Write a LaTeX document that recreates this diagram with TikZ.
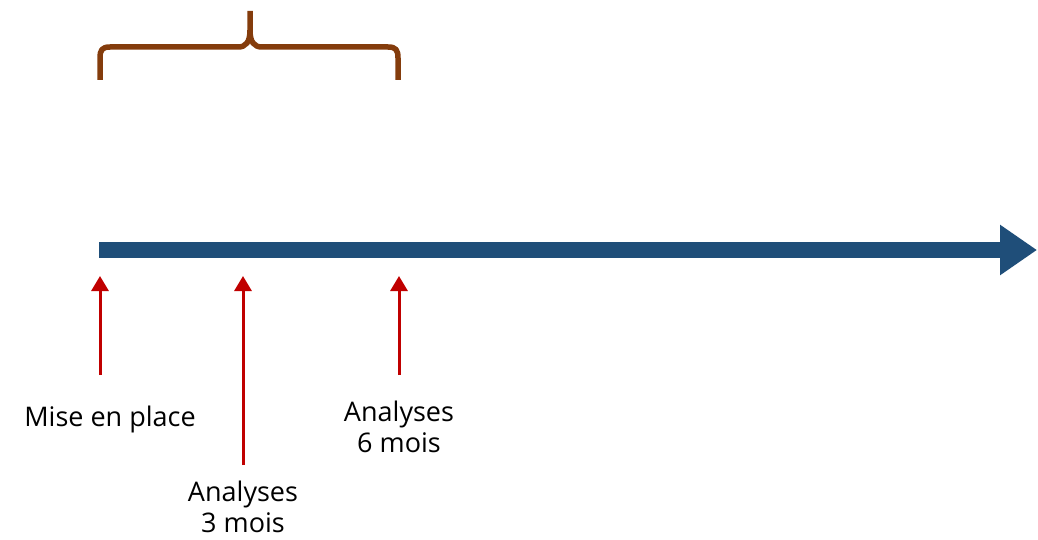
\documentclass[tikz,border=0pt]{standalone}
\usepackage{fontspec}
\setmainfont{Open Sans}
\usetikzlibrary{arrows.meta}
\definecolor{axisblue}{HTML}{1F4E79}
\definecolor{markred}{HTML}{C00000}
\definecolor{bracebrown}{HTML}{843C0C}

\begin{document}
\begin{tikzpicture}[x=1pt,y=-1pt,
	timeline/.style={axisblue, line width=16pt, -{Triangle[length=37pt,width=48pt]}},
	marker/.style={markred, line width=3pt, -{Triangle[length=15pt,width=17pt]}},
	lbl/.style={font=\fontsize{27}{31}\selectfont, align=center, inner sep=0pt}]
	\useasboundingbox (0,0) rectangle (1038,540);
	% time axis
		\coordinate (t0) at (99,250);
		\coordinate (tEnd) at (1037,250);
		\draw[timeline] (t0) -- (tEnd);
	% events
		\coordinate (e0) at (100,276);
		\coordinate (e3) at (243,276);
		\coordinate (e6) at (399,276);
		\coordinate (f0) at (100,375);
		\coordinate (f3) at (243,465);
		\coordinate (f6) at (399,375);
		\draw[marker] (f0) -- (e0);
		\draw[marker] (f3) -- (e3);
		\draw[marker] (f6) -- (e6);
		\node[lbl] (start) at (110,419) {Mise en place};
		\node[lbl] (month3) at (243,507) {Analyses\\3 mois};
		\node[lbl] (month6) at (399,427) {Analyses\\6 mois};
	% brace
		\draw[bracebrown, line width=5.5pt, line join=round]
			(100,80) -- (100,58) .. controls (100,50) and (102,47) .. (110,47)
			-- (238,47) .. controls (246,47) and (250,42) .. (250,30) -- (250,11);
		\draw[bracebrown, line width=5.5pt, line join=round]
			(398,80) -- (398,58) .. controls (398,50) and (396,47) .. (388,47)
			-- (262,47) .. controls (254,47) and (250,42) .. (250,30);
\end{tikzpicture}
\end{document}
